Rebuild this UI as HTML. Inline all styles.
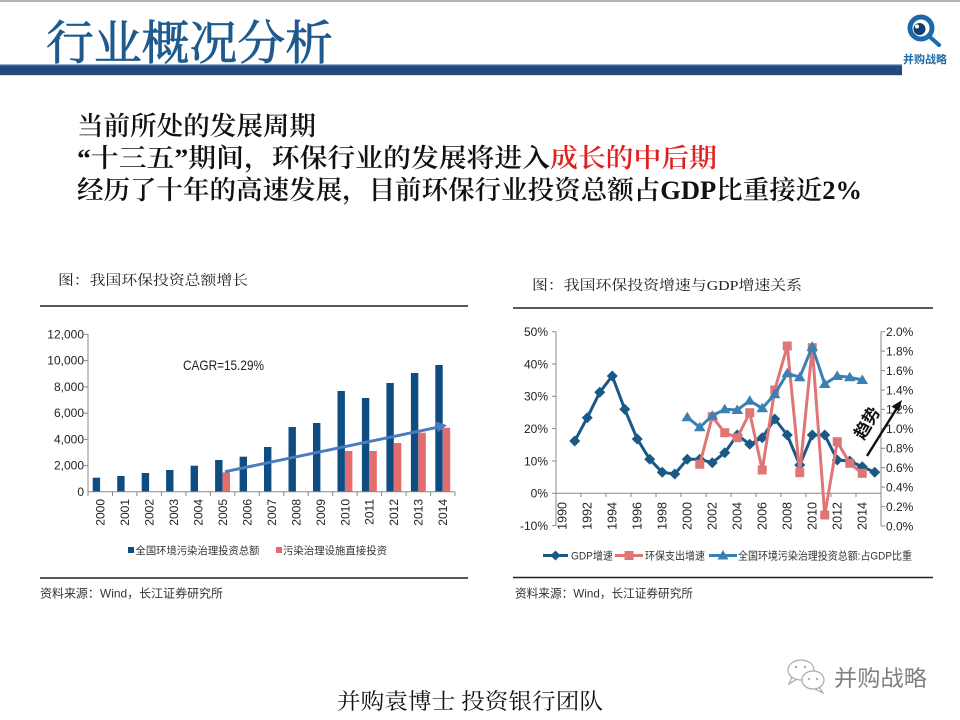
<!DOCTYPE html>
<html><head><meta charset="utf-8"><style>
html,body{margin:0;padding:0;background:#fff;}
svg{display:block;}
.sans{font-family:"Liberation Sans","Noto Sans CJK SC",sans-serif;}
.serif{font-family:"Liberation Serif","Noto Serif CJK SC",serif;}
</style></head><body>
<svg width="960" height="720" viewBox="0 0 960 720" xmlns="http://www.w3.org/2000/svg">
<defs>
<marker id="mDia" markerUnits="userSpaceOnUse" markerWidth="12" markerHeight="12" refX="6" refY="6" overflow="visible"><polygon points="6,0.5 11.5,6 6,11.5 0.5,6" fill="#1a5886"/></marker>
<marker id="mSq" markerUnits="userSpaceOnUse" markerWidth="12" markerHeight="12" refX="6" refY="6" overflow="visible"><rect x="1.5" y="1.5" width="9" height="9" fill="#e07575"/></marker>
<marker id="mTri" markerUnits="userSpaceOnUse" markerWidth="12" markerHeight="12" refX="6" refY="6" overflow="visible"><polygon points="6,0.5 11.8,10 0.2,10" fill="#3a80b2"/></marker>
</defs>
<rect width="960" height="720" fill="#fff"/>
<!-- header -->
<rect x="0" y="0" width="960" height="2" fill="#b4b4b4"/>
<text class="serif" x="46" y="59.5" font-size="47" fill="#1f5a8e" stroke="#1f5a8e" stroke-width="0.8" textLength="287" lengthAdjust="spacingAndGlyphs">行业概况分析</text>
<rect x="0" y="64" width="902" height="1.2" fill="#8fb0d0"/>
<rect x="0" y="65.2" width="902" height="10" fill="#24497a"/>
<!-- logo -->
<circle cx="921" cy="28" r="11" fill="none" stroke="#1e6aa8" stroke-width="5"/>
<circle cx="919.5" cy="29" r="6" fill="#123f6e"/>
<circle cx="917" cy="26.5" r="2" fill="#fff"/>
<line x1="930" y1="37" x2="939" y2="45" stroke="#1e6aa8" stroke-width="4" stroke-linecap="round"/>
<text class="sans" x="903" y="63" font-size="11" font-weight="bold" fill="#1e6aa8" textLength="44" lengthAdjust="spacingAndGlyphs">并购战略</text>
<!-- main text -->
<text class="serif" x="77" y="135" font-size="26" font-weight="600" fill="#111" textLength="239" lengthAdjust="spacingAndGlyphs">当前所处的发展周期</text>
<text class="serif" x="77" y="167" font-size="26" font-weight="600" fill="#111" textLength="640" lengthAdjust="spacingAndGlyphs">“十三五”期间，环保行业的发展将进入<tspan fill="#e02020">成长的中后期</tspan></text>
<text class="serif" x="77" y="199" font-size="26" font-weight="600" fill="#111" textLength="785" lengthAdjust="spacingAndGlyphs">经历了十年的高速发展，目前环保行业投资总额占GDP比重接近2%</text>

<!-- LEFT CHART -->
<text class="serif" x="58" y="285" font-size="14" fill="#222" textLength="190" lengthAdjust="spacingAndGlyphs">图：我国环保投资总额增长</text>
<line x1="40" y1="306" x2="468" y2="306" stroke="#222" stroke-width="1.5"/>
<line x1="40" y1="578" x2="468" y2="578" stroke="#222" stroke-width="1.5"/>
<g class="sans" font-size="12" fill="#222" text-anchor="end">
<text x="84" y="338.5">12,000</text>
<text x="84" y="364.7">10,000</text>
<text x="84" y="391">8,000</text>
<text x="84" y="417.2">6,000</text>
<text x="84" y="443.5">4,000</text>
<text x="84" y="469.7">2,000</text>
<text x="84" y="496">0</text>
</g>
<g stroke="#888" stroke-width="1">
<line x1="88" y1="334" x2="88" y2="491.7"/>
<line x1="84" y1="334.3" x2="88" y2="334.3"/>
<line x1="84" y1="360.6" x2="88" y2="360.6"/>
<line x1="84" y1="386.9" x2="88" y2="386.9"/>
<line x1="84" y1="413.2" x2="88" y2="413.2"/>
<line x1="84" y1="439.4" x2="88" y2="439.4"/>
<line x1="84" y1="465.7" x2="88" y2="465.7"/>
</g>
<!-- bars blue -->
<g fill="#0f4c81">
<rect x="92.7" y="477.7" width="7.4" height="14"/>
<rect x="117.2" y="476" width="7.4" height="15.7"/>
<rect x="141.7" y="473" width="7.4" height="18.7"/>
<rect x="166.1" y="470" width="7.4" height="21.7"/>
<rect x="190.6" y="465.7" width="7.4" height="26"/>
<rect x="215.1" y="460" width="7.4" height="31.7"/>
<rect x="239.6" y="456.7" width="7.4" height="35"/>
<rect x="264" y="447" width="7.4" height="44.7"/>
<rect x="288.5" y="427" width="7.4" height="64.7"/>
<rect x="313" y="423" width="7.4" height="68.7"/>
<rect x="337.5" y="391" width="7.4" height="100.7"/>
<rect x="361.9" y="398" width="7.4" height="93.7"/>
<rect x="386.4" y="383" width="7.4" height="108.7"/>
<rect x="410.9" y="373" width="7.4" height="118.7"/>
<rect x="435.3" y="365" width="7.4" height="126.7"/>
</g>
<g fill="#e36c6c">
<rect x="222.6" y="472.4" width="7.4" height="19.3"/>
<rect x="345" y="451" width="7.4" height="40.7"/>
<rect x="369.4" y="451" width="7.4" height="40.7"/>
<rect x="393.9" y="443" width="7.4" height="48.7"/>
<rect x="418.4" y="432.7" width="7.4" height="59"/>
<rect x="442.8" y="427.7" width="7.4" height="64"/>
</g>
<g stroke="#888" stroke-width="1">
<line x1="88" y1="491.7" x2="455" y2="491.7"/>
<line x1="88" y1="491.7" x2="88" y2="496"/><line x1="112.5" y1="491.7" x2="112.5" y2="496"/><line x1="136.9" y1="491.7" x2="136.9" y2="496"/><line x1="161.4" y1="491.7" x2="161.4" y2="496"/><line x1="185.9" y1="491.7" x2="185.9" y2="496"/><line x1="210.4" y1="491.7" x2="210.4" y2="496"/><line x1="234.8" y1="491.7" x2="234.8" y2="496"/><line x1="259.3" y1="491.7" x2="259.3" y2="496"/><line x1="283.8" y1="491.7" x2="283.8" y2="496"/><line x1="308.2" y1="491.7" x2="308.2" y2="496"/><line x1="332.7" y1="491.7" x2="332.7" y2="496"/><line x1="357.2" y1="491.7" x2="357.2" y2="496"/><line x1="381.6" y1="491.7" x2="381.6" y2="496"/><line x1="406.1" y1="491.7" x2="406.1" y2="496"/><line x1="430.6" y1="491.7" x2="430.6" y2="496"/><line x1="455" y1="491.7" x2="455" y2="496"/>
</g>
<!-- CAGR arrow -->
<line x1="225" y1="471.7" x2="438" y2="427.2" stroke="#4a7cc0" stroke-width="3"/>
<polygon points="447,425.3 435.5,421.5 437.8,432.4" fill="#4a7cc0"/>
<text class="sans" x="183" y="370" font-size="14" fill="#222" textLength="81" lengthAdjust="spacingAndGlyphs">CAGR=15.29%</text>
<!-- left x labels -->
<g class="sans" font-size="12" fill="#222" text-anchor="end">
<text transform="translate(104.5,499) rotate(-90)">2000</text>
<text transform="translate(129,499) rotate(-90)">2001</text>
<text transform="translate(153.5,499) rotate(-90)">2002</text>
<text transform="translate(177.9,499) rotate(-90)">2003</text>
<text transform="translate(202.4,499) rotate(-90)">2004</text>
<text transform="translate(226.9,499) rotate(-90)">2005</text>
<text transform="translate(251.4,499) rotate(-90)">2006</text>
<text transform="translate(275.8,499) rotate(-90)">2007</text>
<text transform="translate(300.3,499) rotate(-90)">2008</text>
<text transform="translate(324.8,499) rotate(-90)">2009</text>
<text transform="translate(349.3,499) rotate(-90)">2010</text>
<text transform="translate(373.7,499) rotate(-90)">2011</text>
<text transform="translate(398.2,499) rotate(-90)">2012</text>
<text transform="translate(422.7,499) rotate(-90)">2013</text>
<text transform="translate(447.1,499) rotate(-90)">2014</text>
</g>
<!-- left legend -->
<rect x="128" y="547" width="6" height="6" fill="#0f4c81"/>
<text class="sans" x="135.5" y="554" font-size="10.5" fill="#333" textLength="124" lengthAdjust="spacingAndGlyphs">全国环境污染治理投资总额</text>
<rect x="276" y="547" width="6" height="6" fill="#e36c6c"/>
<text class="sans" x="283" y="554" font-size="10.5" fill="#333" textLength="104" lengthAdjust="spacingAndGlyphs">污染治理设施直接投资</text>
<text class="sans" x="40" y="597.5" font-size="12" fill="#333" textLength="183" lengthAdjust="spacingAndGlyphs">资料来源：Wind，长江证券研究所</text>

<!-- RIGHT CHART -->
<text class="serif" x="532" y="290" font-size="14" fill="#222" textLength="270" lengthAdjust="spacingAndGlyphs">图：我国环保投资增速与GDP增速关系</text>
<line x1="513" y1="308" x2="933" y2="308" stroke="#222" stroke-width="1.5"/>
<line x1="513" y1="577.5" x2="933" y2="577.5" stroke="#222" stroke-width="1.5"/>
<g class="sans" font-size="12" fill="#222" text-anchor="end">
<text x="548" y="336">50%</text>
<text x="548" y="368.3">40%</text>
<text x="548" y="400.6">30%</text>
<text x="548" y="433">20%</text>
<text x="548" y="465.3">10%</text>
<text x="548" y="497.6">0%</text>
<text x="548" y="530">-10%</text>
</g>
<g class="sans" font-size="12" fill="#222">
<text x="886" y="336">2.0%</text>
<text x="886" y="355.4">1.8%</text>
<text x="886" y="374.8">1.6%</text>
<text x="886" y="394.3">1.4%</text>
<text x="886" y="413.7">1.2%</text>
<text x="886" y="433.2">1.0%</text>
<text x="886" y="452.6">0.8%</text>
<text x="886" y="472">0.6%</text>
<text x="886" y="491.5">0.4%</text>
<text x="886" y="510.9">0.2%</text>
<text x="886" y="530.3">0.0%</text>
</g>
<g stroke="#888" stroke-width="1">
<line x1="556" y1="331.7" x2="556" y2="525.6"/>
<line x1="881" y1="331.7" x2="881" y2="526"/>
<line x1="556" y1="493.3" x2="881" y2="493.3"/>
<line x1="552" y1="331.7" x2="556" y2="331.7"/><line x1="552" y1="364" x2="556" y2="364"/><line x1="552" y1="396.3" x2="556" y2="396.3"/><line x1="552" y1="428.6" x2="556" y2="428.6"/><line x1="552" y1="461" x2="556" y2="461"/><line x1="552" y1="493.3" x2="556" y2="493.3"/><line x1="552" y1="525.6" x2="556" y2="525.6"/>
<line x1="881" y1="331.7" x2="885" y2="331.7"/><line x1="881" y1="351.1" x2="885" y2="351.1"/><line x1="881" y1="370.6" x2="885" y2="370.6"/><line x1="881" y1="390" x2="885" y2="390"/><line x1="881" y1="409.4" x2="885" y2="409.4"/><line x1="881" y1="428.9" x2="885" y2="428.9"/><line x1="881" y1="448.3" x2="885" y2="448.3"/><line x1="881" y1="467.7" x2="885" y2="467.7"/><line x1="881" y1="487.1" x2="885" y2="487.1"/><line x1="881" y1="506.6" x2="885" y2="506.6"/><line x1="881" y1="526" x2="885" y2="526"/>
<line x1="581" y1="493.3" x2="581" y2="497"/><line x1="606" y1="493.3" x2="606" y2="497"/><line x1="631" y1="493.3" x2="631" y2="497"/><line x1="656" y1="493.3" x2="656" y2="497"/><line x1="681" y1="493.3" x2="681" y2="497"/><line x1="706" y1="493.3" x2="706" y2="497"/><line x1="731" y1="493.3" x2="731" y2="497"/><line x1="756" y1="493.3" x2="756" y2="497"/><line x1="781" y1="493.3" x2="781" y2="497"/><line x1="806" y1="493.3" x2="806" y2="497"/><line x1="831" y1="493.3" x2="831" y2="497"/><line x1="856" y1="493.3" x2="856" y2="497"/>
</g>
<g class="sans" font-size="12.5" fill="#222" text-anchor="end">
<text transform="translate(566.6,502) rotate(-90)">1990</text>
<text transform="translate(591.6,502) rotate(-90)">1992</text>
<text transform="translate(616.6,502) rotate(-90)">1994</text>
<text transform="translate(641.6,502) rotate(-90)">1996</text>
<text transform="translate(666.6,502) rotate(-90)">1998</text>
<text transform="translate(691.6,502) rotate(-90)">2000</text>
<text transform="translate(716.6,502) rotate(-90)">2002</text>
<text transform="translate(741.6,502) rotate(-90)">2004</text>
<text transform="translate(766.6,502) rotate(-90)">2006</text>
<text transform="translate(791.6,502) rotate(-90)">2008</text>
<text transform="translate(816.6,502) rotate(-90)">2010</text>
<text transform="translate(841.6,502) rotate(-90)">2012</text>
<text transform="translate(866.6,502) rotate(-90)">2014</text>
</g>
<!-- series -->
<polyline fill="none" stroke="#1a5886" stroke-width="3" stroke-linejoin="round" marker-start="url(#mDia)" marker-mid="url(#mDia)" marker-end="url(#mDia)"
 points="574.75,441 587.25,417.7 599.75,392.3 612.25,376 624.75,409.3 637.25,439 649.75,459.3 662.25,472.3 674.75,474 687.25,459.3 699.75,459.3 712.25,462.7 724.75,452.7 737.25,435 749.75,444.3 762.25,437.7 774.75,419 787.25,435 799.75,465 812.25,435 824.75,435 837.25,460 849.75,461 862.25,466.7 874.75,472.3"/>
<polyline fill="none" stroke="#e07575" stroke-width="3" stroke-linejoin="round" marker-start="url(#mSq)" marker-mid="url(#mSq)" marker-end="url(#mSq)"
 points="699.75,464.3 712.25,416.7 724.75,432.7 737.25,437.7 749.75,412.7 762.25,470 774.75,390 787.25,346 799.75,472.7 812.25,347.7 824.75,515 837.25,441.7 849.75,463.3 862.25,473.3"/>
<polyline fill="none" stroke="#3a80b2" stroke-width="3" stroke-linejoin="round" marker-start="url(#mTri)" marker-mid="url(#mTri)" marker-end="url(#mTri)"
 points="687.25,417.3 699.75,427.3 712.25,415.7 724.75,409.3 737.25,410 749.75,400.7 762.25,408.3 774.75,394.3 787.25,373.3 799.75,377.3 812.25,346.7 824.75,384 837.25,376 849.75,377.3 862.25,380"/>
<!-- trend arrow -->
<line x1="867" y1="456" x2="897" y2="408" stroke="#111" stroke-width="2.5"/>
<polygon points="902,400 891.5,406.5 899,411" fill="#111"/>
<text class="sans" font-size="17" font-weight="bold" fill="#111" text-anchor="middle" transform="translate(872,426) rotate(-60)">趋势</text>
<!-- right legend -->
<line x1="543" y1="555.5" x2="568" y2="555.5" stroke="#1a5886" stroke-width="3"/>
<polygon points="555.5,550.5 560.5,555.5 555.5,560.5 550.5,555.5" fill="#1a5886"/>
<text class="sans" x="571" y="559.5" font-size="11" fill="#333" textLength="42" lengthAdjust="spacingAndGlyphs">GDP增速</text>
<line x1="615" y1="555.5" x2="643" y2="555.5" stroke="#e07575" stroke-width="3"/>
<rect x="624.5" y="551" width="9" height="9" fill="#e07575"/>
<text class="sans" x="645" y="559.5" font-size="11" fill="#333" textLength="60" lengthAdjust="spacingAndGlyphs">环保支出增速</text>
<line x1="709" y1="555.5" x2="737" y2="555.5" stroke="#3a80b2" stroke-width="3"/>
<polygon points="723,550 728.5,559.5 717.5,559.5" fill="#3a80b2"/>
<text class="sans" x="738" y="559.5" font-size="11" fill="#333" textLength="174" lengthAdjust="spacingAndGlyphs">全国环境污染治理投资总额:占GDP比重</text>
<text class="sans" x="515" y="597.5" font-size="12" fill="#333" textLength="178" lengthAdjust="spacingAndGlyphs">资料来源：Wind，长江证券研究所</text>

<!-- footer -->
<text class="serif" x="337" y="709" font-size="22" fill="#111" textLength="266" lengthAdjust="spacingAndGlyphs">并购袁博士 投资银行团队</text>
<!-- wechat icon -->
<g fill="none" stroke="#aaa" stroke-width="1.2">
<ellipse cx="801" cy="670" rx="13" ry="10"/>
<path d="M792,677 L789,684 L797,679"/>
<ellipse cx="813" cy="680" rx="11" ry="9" fill="#fff"/>
<path d="M819,687 L823,693 L815,689"/>
</g>
<g fill="#aaa">
<circle cx="796" cy="667" r="1.2"/><circle cx="805" cy="667" r="1.2"/>
<circle cx="809" cy="679" r="1.1"/><circle cx="817" cy="679" r="1.1"/>
</g>
<text class="sans" x="834" y="686" font-size="22" fill="#808080" textLength="93" lengthAdjust="spacingAndGlyphs">并购战略</text>
</svg>
</body></html>
